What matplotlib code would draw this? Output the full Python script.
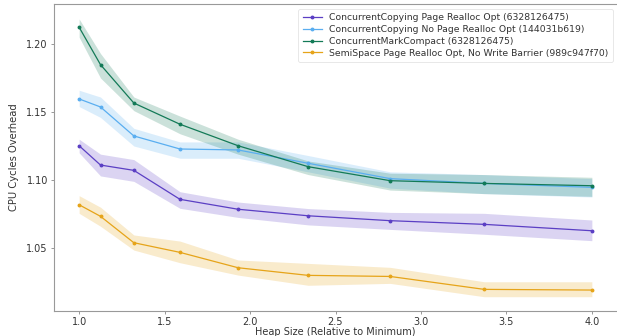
import numpy as np
import matplotlib
matplotlib.use("Agg")
import matplotlib.pyplot as plt

heap = [1.0, 1.125, 1.32, 1.59, 1.93, 2.34, 2.82, 3.37, 4.0]

labels = ['ConcurrentCopying Page Realloc Opt (6328126475)',
          'ConcurrentCopying No Page Realloc Opt (144031b619)',
          'ConcurrentMarkCompact (6328126475)',
          'SemiSpace Page Realloc Opt, No Write Barrier (989c947f70)']

cc_page = [1.1252, 1.1110, 1.1071, 1.0858, 1.0785, 1.0737, 1.0701, 1.0674, 1.0627]
cc_page_lo = [1.1200, 1.1030, 1.0990, 1.0792, 1.0725, 1.0670, 1.0637, 1.0601, 1.0554]
cc_page_hi = [1.1300, 1.1190, 1.1150, 1.0914, 1.0838, 1.0790, 1.0762, 1.0755, 1.0706]

cc_nopage = [1.1596, 1.1537, 1.1324, 1.1228, 1.1221, 1.1123, 1.1010, 1.0975, 1.0946]
cc_nopage_lo = [1.1540, 1.1460, 1.1250, 1.1160, 1.1160, 1.1060, 1.0940, 1.0900, 1.0875]
cc_nopage_hi = [1.1660, 1.1610, 1.1380, 1.1280, 1.1280, 1.1180, 1.1060, 1.1040, 1.1010]

cmc = [1.2123, 1.1848, 1.1566, 1.1410, 1.1252, 1.1098, 1.0995, 1.0975, 1.0958]
cmc_lo = [1.2050, 1.1750, 1.1510, 1.1340, 1.1190, 1.1040, 1.0926, 1.0900, 1.0880]
cmc_hi = [1.2184, 1.1930, 1.1610, 1.1470, 1.1300, 1.1140, 1.1050, 1.1040, 1.1020]

ss = [1.0818, 1.0733, 1.0539, 1.0468, 1.0355, 1.0299, 1.0291, 1.0196, 1.0191]
ss_lo = [1.0755, 1.0660, 1.0485, 1.0392, 1.0301, 1.0226, 1.0240, 1.0142, 1.0142]
ss_hi = [1.0885, 1.0800, 1.0596, 1.0551, 1.0412, 1.0387, 1.0358, 1.0252, 1.0252]

colors = ['#5b3fc4', '#5aaef0', '#137a57', '#e6a419']
series = [(cc_page, cc_page_lo, cc_page_hi),
          (cc_nopage, cc_nopage_lo, cc_nopage_hi),
          (cmc, cmc_lo, cmc_hi),
          (ss, ss_lo, ss_hi)]

fig = plt.figure(figsize=(6.17, 3.36), dpi=100)
ax = fig.add_axes([53.5 / 617, 25 / 336, 564 / 617, 307 / 336])

for (y, lo, hi), c, lab in zip(series, colors, labels):
    ax.fill_between(heap, lo, hi, color=c, alpha=0.22, linewidth=0)
    ax.plot(heap, y, color=c, lw=0.9, marker='o', ms=1.8, label=lab)

ax.set_xlim(0.85, 4.15)
ax.set_ylim(1.0037, 1.2294)
ax.set_xticks([1.0, 1.5, 2.0, 2.5, 3.0, 3.5, 4.0])
ax.set_yticks([1.05, 1.10, 1.15, 1.20])
ax.set_yticklabels(['1.05', '1.10', '1.15', '1.20'])
ax.tick_params(labelsize=7, labelcolor='#333333', length=2.5, width=0.6,
               color='#888888', pad=1.5)
ax.set_xlabel('Heap Size (Relative to Minimum)', fontsize=7, color='#333333', labelpad=0)
ax.set_ylabel('CPU Cycles Overhead', fontsize=7.2, color='#333333', labelpad=5)
for s in ['left', 'bottom', 'top']:
    ax.spines[s].set_color('#999999')
    ax.spines[s].set_linewidth(0.8)
ax.spines['right'].set_visible(False)

leg = ax.legend(loc='upper right', fontsize=6.7, frameon=True, handlelength=2.0,
                borderaxespad=0.5, labelspacing=0.3, borderpad=0.5)
leg.get_frame().set_edgecolor('#dddddd')
leg.get_frame().set_linewidth(0.6)
for t in leg.get_texts():
    t.set_color('#333333')

fig.savefig('out.png', dpi=100)
